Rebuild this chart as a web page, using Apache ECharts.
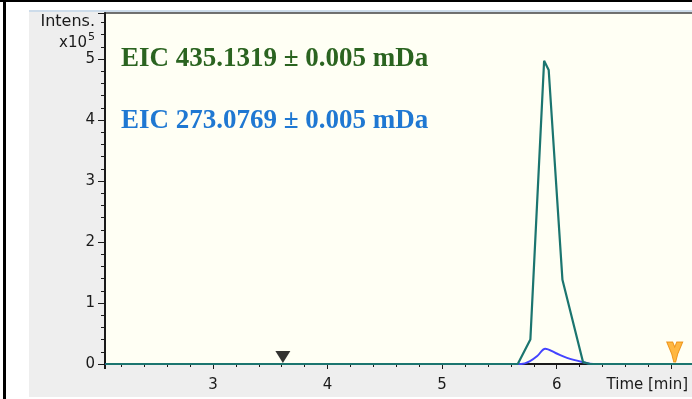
<!DOCTYPE html>
<html>
<head>
<meta charset="utf-8">
<script src="https://cdn.jsdelivr.net/npm/echarts@6/dist/echarts.min.js"></script>
<style>
  html, body { margin: 0; padding: 0; background: #fff; }
  #chart { width: 692px; height: 399px; }
</style>
</head>
<body>
<div id="chart"></div>
<script>
// chromatogram traces, time in min, intensity in x10^5
const greenTimes  = [2.06, 5.66, 5.77, 5.89, 5.93, 6.05, 6.23, 6.29, 7.2];
const greenValues = [0, 0, 0.40, 4.97, 4.82, 1.38, 0.03, 0, 0];
const blueTimes   = [2.06, 5.69, 5.77, 5.83, 5.90, 5.99, 6.09, 6.23, 6.32, 7.2];
const blueValues  = [0, 0, 0.05, 0.13, 0.25, 0.18, 0.10, 0.03, 0, 0];

// event markers on the time axis
const blackMarkerTimes  = [3.61];
const orangeMarkerTimes = [7.03];

const xLabels = [3, 4, 5, 6];
const yLabels = [0, 1, 2, 3, 4, 5];

const greenTitle = 'EIC 435.1319 ± 0.005 mDa';
const blueTitle = 'EIC 273.0769 ± 0.005 mDa';

const pairs = (xs, ys) => xs.map((x, i) => [x, ys[i]]);

const axisFont = 'DejaVu Sans';
const ink = '#1a1a1a';
const panelGray = '#eeeeee';

const chart = echarts.init(document.getElementById('chart'));

chart.setOption({
  animation: false,
  backgroundColor: '#ffffff',
  grid: {
    left: 98.43, right: -2.2, top: 13, bottom: 35,
    outerBoundsMode: 'none', containLabel: false,
    show: true, backgroundColor: '#fffff4', borderWidth: 0
  },
  xAxis: [{
    type: 'value', min: 2, max: 7.2, interval: 1,
    position: 'bottom', offset: 4, z: 0,
    axisLine: {lineStyle: {color: ink, width: 2}},
    axisTick: {length: 5, lineStyle: {color: ink}},
    minorTick: {show: true, splitNumber: 5, length: 3, lineStyle: {color: ink}},
    splitLine: {show: false},
    axisLabel: {
      margin: 10, fontFamily: axisFont, fontSize: 15, color: ink,
      formatter: v => xLabels.includes(v) ? String(v) : ''
    }
  }, {
    type: 'value', min: 2, max: 7.2, position: 'top', z: 0,
    axisLine: {lineStyle: {color: '#444', width: 1.5}},
    axisTick: {show: false}, axisLabel: {show: false}, splitLine: {show: false}
  }],
  yAxis: {
    type: 'value', min: 0, max: 5.754, interval: 1,
    offset: -6.57, z: 3,
    axisLine: {show: true, lineStyle: {color: ink, width: 2}},
    axisTick: {show: true, length: 7, lineStyle: {color: ink}},
    minorTick: {show: true, splitNumber: 5, length: 4, lineStyle: {color: ink}},
    splitLine: {show: false},
    axisLabel: {
      margin: 10, fontFamily: axisFont, fontSize: 15, color: ink,
      formatter: v => yLabels.includes(v) ? String(v) : ''
    }
  },
  series: [{
    type: 'line', data: pairs(blueTimes, blueValues),
    smooth: 0.35, showSymbol: false, z: 3,
    lineStyle: {color: '#4444ff', width: 2}
  }, {
    type: 'line', data: pairs(greenTimes, greenValues),
    showSymbol: false, z: 4,
    lineStyle: {color: '#1b756f', width: 2.2}
  }, {
    type: 'scatter', data: blackMarkerTimes.map(t => [t, 0]),
    symbol: 'triangle', symbolRotate: 180, symbolSize: [15, 12],
    symbolOffset: [0, -7], z: 5,
    itemStyle: {color: '#000'}
  }, {
    type: 'scatter', data: orangeMarkerTimes.map(t => [t, 0]),
    symbol: 'path://M0,0 L6,0 L8,5 L10,0 L16,0 L11,12 L9,20 L7,20 L5,12 Z',
    symbolSize: [16, 20], symbolOffset: [0, -12], z: 5,
    itemStyle: {color: '#ffa514', borderColor: '#e88400', borderWidth: 1}
  }],
  graphic: [
    // frame: black rules, white margin, gray panel
    {type: 'rect', z: -10, shape: {x: 29, y: 10, width: 663, height: 387}, style: {fill: panelGray}},
    {type: 'rect', z: -9, shape: {x: 29, y: 10, width: 663, height: 2}, style: {fill: '#cddcea'}},
    {type: 'rect', z: 10, shape: {x: 0, y: 0, width: 692, height: 2}, style: {fill: '#000'}},
    {type: 'rect', z: 10, shape: {x: 3, y: 0, width: 3, height: 399}, style: {fill: '#000'}},
    // covers the stub of the time axis left of the intensity axis
    {type: 'rect', z: 1, shape: {x: 29, y: 12, width: 75.5, height: 385}, style: {fill: panelGray}},
    {type: 'line', z: 3, shape: {x1: 105, y1: 363, x2: 105, y2: 369}, style: {stroke: ink, lineWidth: 2}},
    {type: 'text', z: 3, style: {text: 'Intens.', x: 95, y: 22, align: 'right', verticalAlign: 'middle',
      font: '16px "DejaVu Sans"', fill: ink}},
    {type: 'text', z: 3, style: {text: 'x10', x: 87, y: 43, align: 'right', verticalAlign: 'middle',
      font: '15px "DejaVu Sans"', fill: ink}},
    {type: 'text', z: 3, style: {text: '5', x: 88, y: 37, align: 'left', verticalAlign: 'middle',
      font: '11px "DejaVu Sans"', fill: ink}},
    {type: 'text', z: 3, style: {text: 'Time [min]', x: 688, y: 385, align: 'right', verticalAlign: 'middle',
      font: '15px "DejaVu Sans"', fill: ink}},
    {type: 'text', z: 6, style: {text: greenTitle, x: 121, y: 59, align: 'left', verticalAlign: 'middle',
      font: 'bold 27px "Liberation Serif"', fill: '#2b6420'}},
    {type: 'text', z: 6, style: {text: blueTitle, x: 121, y: 121, align: 'left', verticalAlign: 'middle',
      font: 'bold 27px "Liberation Serif"', fill: '#1f78d2'}}
  ]
});
</script>
</body>
</html>
